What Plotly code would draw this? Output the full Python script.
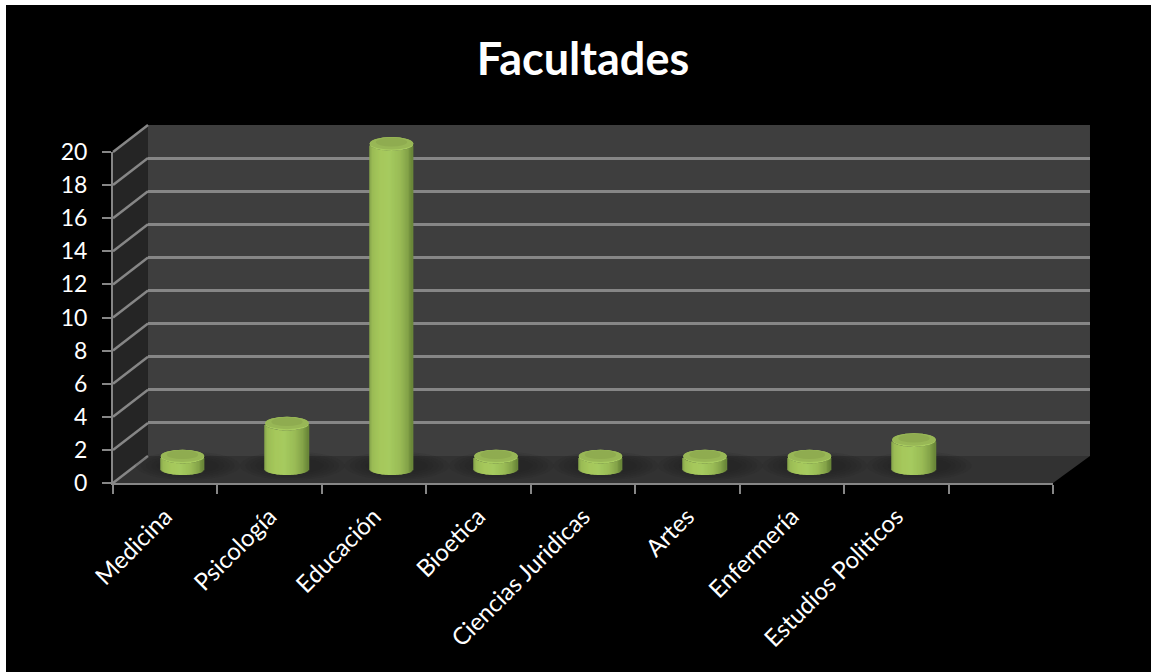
import numpy as np
import plotly.graph_objects as go

categories = ["Medicina", "Psicología", "Educación", "Bioetica", "Ciencias Juridicas",
              "Artes", "Enfermería", "Estudios Politicos"]
values = [1, 3, 20, 1, 1, 1, 1, 2]
y_ticks = list(range(0, 21, 2))
title_text = "Facultades"

W, H = 1151, 672
LINE = "#868686"
FONT = "Lato"

def xdom(a, b):
    return [a / W, b / W]

def ydom(bottom, top):
    return [(H - bottom) / H, (H - top) / H]

# chart geometry (pixels)
FX0, FX1, FY0, FY20 = 113, 1053, 483, 152      # front plane
BX0, BX1, BY0, BY20 = 148, 1090, 456, 125      # back wall
px_unit_mid = (473 - 144) / 20
MX0 = 182.5 - 0.5 * 104.5
MX1 = MX0 + 9 * 104.5
MY_bot, MY_top = 473 + px_unit_mid, 144 - px_unit_mid

# cylinder shading
n_strips = 44
bar_w = 0.417
t = (np.arange(n_strips) + 0.5) / n_strips * 2 - 1
stops = [-1, -0.85, -0.5, -0.1, 0.4, 0.75, 1]
stop_rgb = np.array([[0x84, 0xa2, 0x4a], [0x9c, 0xbd, 0x56], [0xa6, 0xc8, 0x5c], [0xa6, 0xcb, 0x60],
                     [0x9a, 0xbc, 0x56], [0x84, 0xa3, 0x49], [0x68, 0x85, 0x38]])
strip_rgb = [f"rgb({int(np.interp(s, stops, stop_rgb[:,0]))},{int(np.interp(s, stops, stop_rgb[:,1]))},{int(np.interp(s, stops, stop_rgb[:,2]))})" for s in t]
curve = np.sqrt(1 - t ** 2)
rim_top, rim_bot, base_level = 0.42, 0.36, 0.24

bx, by, bb, bc = [], [], [], []
for i, v in enumerate(values):
    for k in range(n_strips):
        bx.append(i + t[k] * bar_w / 2)
        low = base_level - rim_bot * curve[k]
        high = v - rim_top * curve[k]
        bb.append(low)
        by.append(high - low)
        bc.append(strip_rgb[k])

shapes = [
    dict(type="rect", xref="paper", yref="paper", x0=6 / W, x1=1.01, y0=-0.01, y1=(H - 5) / H,
         fillcolor="#000000", line_width=0, layer="below"),
]

def poly(pts, color):
    path = "M" + " L".join(f"{x / W:.5f},{(H - y) / H:.5f}" for x, y in pts) + " Z"
    return dict(type="path", xref="paper", yref="paper", path=path, fillcolor=color, line_width=0, layer="below")

shapes.append(poly([(BX0, BY20), (BX1, BY20), (BX1, BY0), (BX0, BY0)], "#3e3e3e"))
shapes.append(poly([(FX0, FY20), (BX0, BY20), (BX0, BY0), (FX0, FY0)], "#252525"))
shapes.append(poly([(FX0, FY0), (BX0, BY0), (BX1, BY0), (FX1, FY0)], "#323232"))

for tk in y_ticks:
    f = FY0 + (FY20 - FY0) * tk / 20
    b = BY0 + (BY20 - BY0) * tk / 20
    shapes.append(dict(type="line", xref="paper", yref="paper", x0=FX0 / W, x1=BX0 / W,
                       y0=(H - f) / H, y1=(H - b) / H, line=dict(color=LINE, width=2.5), layer="below"))

for i, v in enumerate(values):
    # soft floor shadow
    for r, ry in [(0.5, 0.85), (0.45, 0.75), (0.4, 0.65), (0.35, 0.55), (0.3, 0.45)]:
        shapes.append(dict(type="circle", xref="x3", yref="y3", x0=i - r + 0.05, x1=i + r + 0.05,
                           y0=base_level + 0.2 - ry, y1=base_level + 0.2 + ry,
                           fillcolor="rgba(30,30,30,0.13)", line_width=0, layer="below"))
    # cylinder cap
    shapes.append(dict(type="circle", xref="x3", yref="y3", x0=i - bar_w / 2, x1=i + bar_w / 2,
                       y0=v - rim_top, y1=v + rim_top, fillcolor="#a8cc60", line_width=0, layer="above"))
    shapes.append(dict(type="circle", xref="x3", yref="y3", x0=i - bar_w * 0.5, x1=i + bar_w * 0.5,
                       y0=v - rim_top * 0.8, y1=v + rim_top, fillcolor="#98b756", line_width=0, layer="above"))
    shapes.append(dict(type="circle", xref="x3", yref="y3", x0=i - bar_w * 0.36, x1=i + bar_w * 0.36,
                       y0=v - rim_top * 0.35, y1=v + rim_top * 0.9, fillcolor="#8fac50", line_width=0, layer="above"))

x_labels = categories + [" "]

fig = go.Figure()
fig.add_trace(go.Scatter(x=x_labels, y=[0] * len(x_labels), mode="markers", marker=dict(opacity=0, size=1),
                         xaxis="x", yaxis="y", hoverinfo="skip"))
fig.add_trace(go.Scatter(x=[0], y=[0], mode="markers", marker=dict(opacity=0, size=1),
                         xaxis="x2", yaxis="y2", hoverinfo="skip"))
fig.add_trace(go.Bar(x=bx, y=by, base=bb, width=bar_w / n_strips * 1.15, marker=dict(color=bc, line_width=0),
                     xaxis="x3", yaxis="y3", hoverinfo="skip"))

hidden = dict(showgrid=False, zeroline=False, showticklabels=False, ticks="", showline=False, automargin=False)

fig.update_layout(
    width=W, height=H, margin=dict(l=0, r=0, t=0, b=0, autoexpand=False), autosize=False,
    paper_bgcolor="#ffffff", plot_bgcolor="rgba(0,0,0,0)", showlegend=False,
    barmode="overlay",
    title=dict(text=f"<b>{title_text}</b>", x=583 / W, xanchor="center", y=(H - 59) / H, yanchor="middle",
               font=dict(family=FONT, size=45, color="#ffffff"), automargin=False),
    shapes=shapes,
    xaxis=dict(domain=xdom(FX0, FX1), type="category", categoryorder="array", categoryarray=x_labels,
               range=[-0.5, 8.5], anchor="y", tickson="boundaries", ticks="outside", ticklen=9, tickwidth=2,
               tickcolor=LINE, showline=True, linecolor=LINE, linewidth=2, showgrid=False, zeroline=False,
               tickangle=-45, dtick=1, automargin=False, ticklabelstandoff=8,
               tickfont=dict(family=FONT, size=24, color="#ffffff")),
    yaxis=dict(domain=ydom(FY0, FY20), range=[0, 20], anchor="x", tickvals=y_ticks, ticks="outside",
               ticklen=9, tickwidth=2, tickcolor=LINE, showline=True, linecolor=LINE, linewidth=2,
               showgrid=False, zeroline=False, ticklabelstandoff=10, automargin=False,
               tickfont=dict(family=FONT, size=23, color="#ffffff")),
    xaxis2=dict(domain=xdom(BX0, BX1), range=[0, 1], anchor="y2", **hidden),
    yaxis2=dict(domain=ydom(BY0, BY20), range=[0, 20], anchor="x2", tickvals=y_ticks, showgrid=True,
                gridcolor=LINE, gridwidth=2.5, zeroline=False, showticklabels=False, ticks="", showline=False,
                automargin=False),
    xaxis3=dict(domain=xdom(MX0, MX1), range=[-0.5, 8.5], anchor="y3", **hidden),
    yaxis3=dict(domain=ydom(MY_bot, MY_top), range=[-1, 21], anchor="x3", **hidden),
)

fig.write_html("out.html", config={"displayModeBar": False},
               post_script="document.body.style.margin='0';document.body.style.overflow='hidden';")
